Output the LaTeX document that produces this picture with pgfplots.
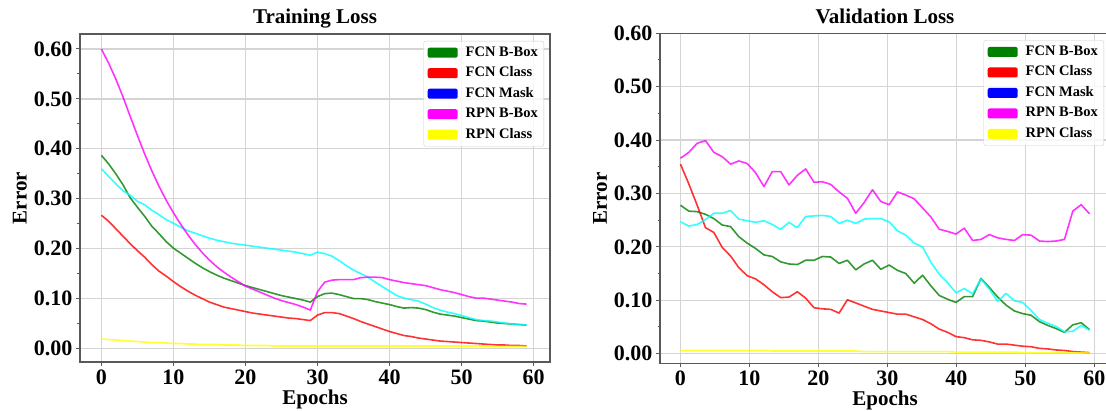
\documentclass[border=0pt]{standalone}
\usepackage{fontspec}
\setmainfont{Liberation Serif}
\usepackage{pgfplots}
\usepackage{pgfplotstable}
\pgfplotsset{compat=1.18}

\definecolor{mgreen}{HTML}{008000}
\definecolor{mred}{HTML}{FF0000}
\definecolor{mcyan}{HTML}{00FFFF}
\definecolor{mmag}{HTML}{FF00FF}
\definecolor{myel}{HTML}{FFFF00}
\definecolor{mblue}{HTML}{0000FF}

\pgfplotstableread{
x g r c m y
0 0.387 0.267 0.360 0.600 0.019
1 0.370 0.255 0.345 0.572 0.018
2 0.350 0.240 0.330 0.540 0.017
3 0.328 0.225 0.316 0.504 0.016
4 0.302 0.210 0.307 0.465 0.015
5 0.283 0.196 0.295 0.427 0.014
6 0.265 0.183 0.288 0.390 0.013
7 0.245 0.168 0.277 0.356 0.012
8 0.230 0.155 0.268 0.325 0.012
9 0.214 0.145 0.258 0.297 0.011
10 0.201 0.134 0.251 0.272 0.010
11 0.191 0.124 0.243 0.249 0.010
12 0.181 0.115 0.236 0.228 0.009
13 0.171 0.107 0.231 0.209 0.009
14 0.162 0.100 0.226 0.192 0.008
15 0.154 0.093 0.221 0.177 0.008
16 0.147 0.088 0.217 0.164 0.008
17 0.141 0.083 0.214 0.153 0.007
18 0.136 0.080 0.211 0.143 0.007
19 0.131 0.077 0.209 0.134 0.007
20 0.126 0.074 0.207 0.125 0.006
21 0.122 0.071 0.205 0.119 0.006
22 0.118 0.069 0.203 0.113 0.006
23 0.114 0.067 0.201 0.107 0.006
24 0.110 0.065 0.199 0.101 0.005
25 0.106 0.063 0.197 0.096 0.005
26 0.103 0.061 0.195 0.092 0.005
27 0.100 0.060 0.193 0.088 0.005
28 0.097 0.058 0.190 0.083 0.005
29 0.093 0.056 0.187 0.077 0.005
30 0.104 0.067 0.193 0.114 0.005
31 0.110 0.072 0.190 0.133 0.005
32 0.111 0.072 0.185 0.137 0.005
33 0.108 0.070 0.176 0.138 0.005
34 0.104 0.065 0.166 0.138 0.005
35 0.100 0.060 0.157 0.138 0.005
36 0.100 0.054 0.150 0.142 0.005
37 0.098 0.049 0.143 0.143 0.005
38 0.094 0.044 0.133 0.143 0.005
39 0.091 0.039 0.124 0.142 0.005
40 0.088 0.034 0.115 0.138 0.005
41 0.084 0.030 0.106 0.135 0.005
42 0.081 0.026 0.101 0.132 0.005
43 0.082 0.024 0.098 0.130 0.005
44 0.081 0.021 0.095 0.128 0.005
45 0.078 0.019 0.089 0.126 0.005
46 0.073 0.017 0.082 0.122 0.005
47 0.069 0.015 0.077 0.118 0.005
48 0.067 0.014 0.073 0.115 0.005
49 0.065 0.013 0.070 0.112 0.005
50 0.062 0.012 0.066 0.108 0.005
51 0.059 0.011 0.062 0.104 0.005
52 0.056 0.010 0.058 0.101 0.005
53 0.055 0.009 0.056 0.101 0.005
54 0.053 0.008 0.055 0.099 0.005
55 0.051 0.007 0.053 0.097 0.004
56 0.050 0.007 0.051 0.095 0.004
57 0.049 0.006 0.049 0.093 0.004
58 0.048 0.006 0.048 0.090 0.004
59 0.047 0.005 0.047 0.089 0.004
}\train

\pgfplotstableread{
x g r c m y
0.00 0.278 0.355 0.247 0.366 0.006
1.21 0.267 0.318 0.239 0.377 0.006
2.42 0.266 0.278 0.242 0.394 0.006
3.63 0.261 0.236 0.251 0.399 0.006
4.84 0.253 0.227 0.263 0.377 0.006
6.05 0.241 0.199 0.263 0.369 0.006
7.26 0.238 0.183 0.268 0.355 0.006
8.47 0.219 0.161 0.252 0.361 0.006
9.68 0.207 0.146 0.249 0.356 0.006
10.89 0.197 0.140 0.246 0.339 0.006
12.10 0.185 0.129 0.249 0.313 0.006
13.31 0.182 0.116 0.242 0.341 0.005
14.52 0.172 0.105 0.233 0.341 0.005
15.73 0.168 0.106 0.246 0.316 0.005
16.94 0.167 0.116 0.236 0.334 0.005
18.15 0.175 0.104 0.257 0.346 0.005
19.36 0.175 0.086 0.258 0.321 0.005
20.57 0.182 0.084 0.259 0.322 0.005
21.78 0.181 0.083 0.257 0.317 0.005
22.99 0.169 0.076 0.244 0.303 0.005
24.20 0.175 0.101 0.250 0.291 0.005
25.41 0.157 0.095 0.244 0.263 0.005
26.62 0.168 0.089 0.252 0.283 0.004
27.83 0.175 0.083 0.253 0.307 0.004
29.04 0.158 0.080 0.253 0.285 0.004
30.25 0.166 0.077 0.247 0.279 0.004
31.46 0.156 0.074 0.230 0.303 0.004
32.67 0.150 0.074 0.222 0.297 0.004
33.88 0.132 0.069 0.207 0.290 0.004
35.09 0.147 0.064 0.200 0.273 0.004
36.30 0.127 0.056 0.171 0.256 0.004
37.51 0.109 0.046 0.149 0.233 0.004
38.72 0.102 0.040 0.133 0.229 0.004
39.93 0.096 0.032 0.114 0.224 0.003
41.14 0.107 0.030 0.122 0.235 0.003
42.35 0.107 0.026 0.112 0.212 0.003
43.56 0.141 0.025 0.140 0.214 0.003
44.77 0.124 0.022 0.121 0.223 0.003
45.98 0.106 0.018 0.098 0.217 0.003
47.19 0.091 0.018 0.113 0.214 0.003
48.40 0.080 0.016 0.099 0.212 0.003
49.61 0.075 0.014 0.096 0.223 0.002
50.82 0.072 0.013 0.081 0.222 0.002
52.03 0.060 0.010 0.064 0.211 0.002
53.24 0.053 0.009 0.057 0.210 0.002
54.45 0.047 0.007 0.051 0.211 0.002
55.66 0.040 0.006 0.041 0.214 0.002
56.87 0.054 0.004 0.042 0.267 0.002
58.08 0.058 0.003 0.053 0.279 0.002
59.29 0.045 0.002 0.044 0.262 0.002
}\valid

\pgfplotsset{
  myaxis/.style={
    scale only axis,
    xmin=-2.965, xmax=62.26,
    xtick={0,10,20,30,40,50,60},
    ytick={0,0.1,0.2,0.3,0.4,0.5,0.6},
    minor y tick num=1,
    yticklabel style={/pgf/number format/.cd, fixed, fixed zerofill, precision=2},
    /pgf/number format/assume math mode=true,
    tick label style={font=\fontsize{22}{24}\selectfont\bfseries},
    tick align=outside, tick pos=left,
    major tick length=4pt, minor tick length=2.5pt,
    every tick/.style={black!65, line width=1pt},
    grid=major,
    major grid style={draw=black!17, line width=1.2pt},
    axis line style={draw=black!65, line width=1.3pt},
    title style={font=\fontsize{21}{24}\selectfont\bfseries, at={(0.5,1)}, anchor=base, yshift=4pt},
    xlabel style={font=\fontsize{21}{24}\selectfont\bfseries, at={(0.5,0)}, anchor=base, yshift=-42pt},
    ylabel style={font=\fontsize{21}{24}\selectfont\bfseries},
    xlabel={Epochs}, ylabel={Error},
    legend image code/.code={\fill[#1, draw=none, opacity=1] (0pt,-5pt) rectangle (30pt,5pt);},
    legend style={at={(1,1)}, anchor=north east, xshift=-6pt, yshift=-7pt,
      draw=black!20, rounded corners=2pt, fill=white, fill opacity=0.8, text opacity=1,
      font=\fontsize{14.5}{16}\selectfont\bfseries,
      inner xsep=4pt, inner ysep=3pt, row sep=3.5pt,
      nodes={inner sep=2pt, text height=10pt, text depth=3pt},
      /tikz/every odd column/.append style={column sep=6pt}},
    legend cell align=left,
    every axis plot/.append style={line width=1.6pt, opacity=0.8, line join=round},
  }
}

\begin{document}
\begin{tikzpicture}
\begin{axis}[myaxis,
  at={(80pt,48pt)}, anchor=south west,
  width=470pt, height=328pt,
  ymin=-0.027, ymax=0.63,
  title={Training Loss},
  ylabel style={at={(axis description cs:-0.128,0.5)}, anchor=center},
]
\addplot[mgreen, forget plot] table[x=x,y=g] {\train};
\addplot[mred, forget plot] table[x=x,y=r] {\train};
\addplot[mcyan, forget plot] table[x=x,y=c] {\train};
\addplot[mmag, forget plot] table[x=x,y=m] {\train};
\addplot[myel, forget plot] table[x=x,y=y] {\train};
\addlegendimage{fill=mgreen}\addlegendentry{FCN B-Box}
\addlegendimage{fill=mred}\addlegendentry{FCN Class}
\addlegendimage{fill=mblue}\addlegendentry{FCN Mask}
\addlegendimage{fill=mmag}\addlegendentry{RPN B-Box}
\addlegendimage{fill=myel}\addlegendentry{RPN Class}
\end{axis}

\begin{axis}[myaxis,
  at={(660pt,46.7pt)}, anchor=south west,
  width=450pt, height=330pt,
  ymin=-0.018, ymax=0.6,
  title={Validation Loss},
  ylabel style={at={(axis description cs:-0.133,0.5)}, anchor=center},
]
\addplot[mgreen, forget plot] table[x=x,y=g] {\valid};
\addplot[mred, forget plot] table[x=x,y=r] {\valid};
\addplot[mcyan, forget plot] table[x=x,y=c] {\valid};
\addplot[mmag, forget plot] table[x=x,y=m] {\valid};
\addplot[myel, forget plot] table[x=x,y=y] {\valid};
\addlegendimage{fill=mgreen}\addlegendentry{FCN B-Box}
\addlegendimage{fill=mred}\addlegendentry{FCN Class}
\addlegendimage{fill=mblue}\addlegendentry{FCN Mask}
\addlegendimage{fill=mmag}\addlegendentry{RPN B-Box}
\addlegendimage{fill=myel}\addlegendentry{RPN Class}
\end{axis}
\pgfresetboundingbox
\path[use as bounding box] (0,0) rectangle (1106pt,410pt);
\end{tikzpicture}
\end{document}
